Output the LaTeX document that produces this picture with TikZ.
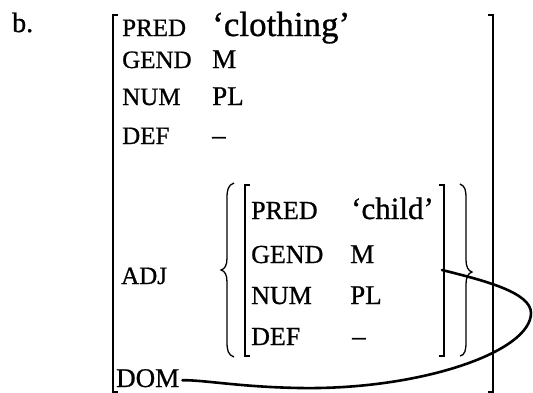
\documentclass[tikz,border=0pt]{standalone}
\usepackage{fontspec}
\setmainfont{Liberation Serif}[FakeBold=0.8]
\begin{document}
\begin{tikzpicture}[x=1pt,y=-1pt,
  txt/.style={anchor=base west,inner sep=0pt,font=\fontsize{#1}{#1}\selectfont},
  txt/.default=25,
  brk/.style={line width=1.8pt,line cap=butt},
  ibrk/.style={line width=1.3pt},
  link/.style={line width=2.6pt,line cap=round}]
\useasboundingbox (0,0) rectangle (533,392);

% example label
\node[txt=28] (lab) at (12,32) {b.};

% outer matrix
\draw[brk] (118,15) -- (113,15) -- (113,392) -- (118,392);
\draw[brk] (488,15) -- (493,15) -- (493,392) -- (488,392);
\node[txt] (f1) at (122,36) {PRED};
\node[txt=35] (v1) at (212,36) {‘clothing’};
\node[txt] (f2) at (122,68) {GEND};
\node[txt=27] (v2) at (212,68) {M};
\node[txt] (f3) at (122,105) {NUM};
\node[txt=27] (v3) at (212,105) {PL};
\node[txt] (f4) at (122,144) {DEF};
\node[txt=27] (v4) at (212,144) {–};
\node[txt] (f5) at (121,284) {ADJ};
\node[txt=27] (dom) at (116,387) {DOM};

% set braces around the adjunct
\draw[ibrk] (234,183) .. controls (228,185) and (227,190) .. (227,198)
  -- (227,258) .. controls (227,265) and (225,269) .. (221,270)
  .. controls (225,271) and (227,275) .. (227,282)
  -- (227,342) .. controls (227,350) and (228,355) .. (234,357);
\draw[ibrk] (460,184) .. controls (465,186) and (466,190) .. (466,198)
  -- (466,260) .. controls (466,266) and (468,271) .. (472,272)
  .. controls (468,273) and (466,278) .. (466,284)
  -- (466,342) .. controls (466,350) and (465,355) .. (460,356);

% inner matrix
\draw[ibrk] (250,185) -- (245,185) -- (245,356) -- (250,356);
\draw[ibrk] (439,185) -- (444,185) -- (444,356) -- (439,356);
\node[txt=26] (g1) at (251,219) {PRED};
\node[txt=31] (w1) at (351,219) {‘child’};
\node[txt=26] (g2) at (251,263) {GEND};
\node[txt=27] (w2) at (350,263) {M};
\node[txt=26] (g3) at (251,304) {NUM};
\node[txt=27] (w3) at (350,304) {PL};
\node[txt=26] (g4) at (251,345) {DEF};
\node[txt=27] (w4) at (352,345) {–};

% line linking the adjunct to DOM
\coordinate (adjend) at (442,270);
\draw[link] (adjend) .. controls (482,280) and (531,292) .. (531,313)
  .. controls (531,352) and (420,390) .. (300,388)
  .. controls (240,387) and (205,380) .. ([xshift=3pt,yshift=-2pt]dom.east);
\end{tikzpicture}
\end{document}
